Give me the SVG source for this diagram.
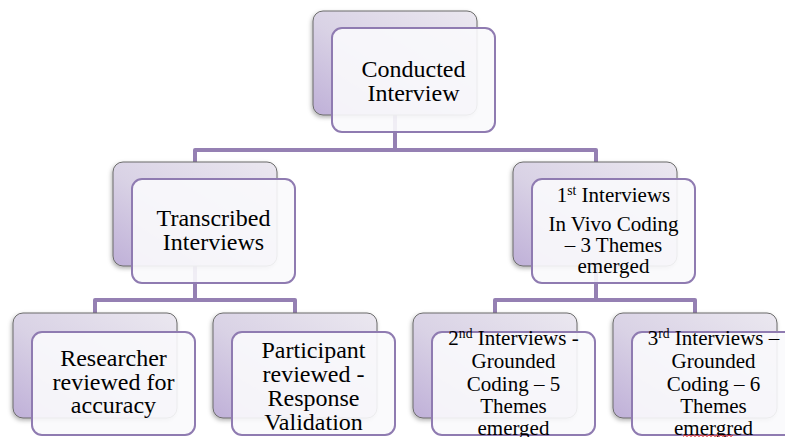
<svg xmlns="http://www.w3.org/2000/svg" width="785" height="437" viewBox="0 0 785 437">
  <defs>
    <linearGradient id="backFill" x1="1" y1="0" x2="0" y2="1">
      <stop offset="0" stop-color="#ebe8f0"/>
      <stop offset="0.55" stop-color="#d9d2e5"/>
      <stop offset="1" stop-color="#bfb0d8"/>
    </linearGradient>
    <filter id="shadow" x="-10%" y="-10%" width="125%" height="130%">
      <feDropShadow dx="-1" dy="2" stdDeviation="2" flood-color="#000" flood-opacity="0.3"/>
    </filter>
  </defs>
  <style>
    .back { fill: url(#backFill); stroke: #6b6b6b; stroke-width: 1; filter: url(#shadow); }
    .front { fill: #fafafc; fill-opacity: 0.9; stroke: #8f7bb1; stroke-width: 2; }
    .link { fill: none; stroke: #9580b3; stroke-width: 4; stroke-linejoin: round; }
    .lbl { font-family: "Liberation Serif", "Times New Roman", serif; fill: #000; text-anchor: middle; }
    .l1 { font-size: 24px; }
    .l2 { font-size: 21px; }
    .sup { font-size: 65%; }
  </style>
  <rect width="785" height="437" fill="#ffffff"/>

  <g id="connectors">
    <path class="link" d="M395 63 V150 M195 162 V150 H596 V162"/>
    <path class="link" d="M195 220 V300 M95 313 V300 H295 V313"/>
    <path class="link" d="M596 220 V300 M495 313 V300 H695 V313"/>
  </g>

  <g id="conducted">
    <rect class="back" x="313" y="11" width="164" height="104" rx="10"/>
    <rect class="front" x="332" y="28" width="163" height="104" rx="10"/>
    <text class="lbl l1" x="413.5" y="77">Conducted</text>
    <text class="lbl l1" x="413.5" y="101">Interview</text>
  </g>

  <g id="transcribed">
    <rect class="back" x="113" y="162" width="164" height="104" rx="10"/>
    <rect class="front" x="132" y="179" width="163" height="104" rx="10"/>
    <text class="lbl l1" x="213.5" y="226">Transcribed</text>
    <text class="lbl l1" x="213.5" y="250">Interviews</text>
  </g>

  <g id="first-interviews">
    <rect class="back" x="513" y="162" width="164" height="104" rx="10"/>
    <rect class="front" x="532" y="179" width="163" height="104" rx="10"/>
    <text class="lbl l2" x="613.5" y="202">1<tspan class="sup" baseline-shift="super">st</tspan> Interviews</text>
    <text class="lbl l2" x="613.5" y="231">In Vivo Coding</text>
    <text class="lbl l2" x="613.5" y="252">– 3 Themes</text>
    <text class="lbl l2" x="613.5" y="273">emerged</text>
  </g>

  <g id="researcher">
    <rect class="back" x="13" y="313" width="164" height="105" rx="10"/>
    <rect class="front" x="32" y="332" width="163" height="103" rx="10"/>
    <text class="lbl l1" x="113.5" y="366">Researcher</text>
    <text class="lbl l1" x="113.5" y="390">reviewed for</text>
    <text class="lbl l1" x="113.5" y="413">accuracy</text>
  </g>

  <g id="participant">
    <rect class="back" x="213" y="313" width="164" height="105" rx="10"/>
    <rect class="front" x="232" y="332" width="163" height="103" rx="10"/>
    <text class="lbl l1" x="313.5" y="358">Participant</text>
    <text class="lbl l1" x="313.5" y="382">reviewed -</text>
    <text class="lbl l1" x="313.5" y="406">Response</text>
    <text class="lbl l1" x="313.5" y="430">Validation</text>
  </g>

  <g id="second-interviews">
    <rect class="back" x="413" y="313" width="164" height="105" rx="10"/>
    <rect class="front" x="432" y="332" width="163" height="103" rx="10"/>
    <text class="lbl l2" x="513.5" y="345">2<tspan class="sup" baseline-shift="super">nd</tspan> Interviews -</text>
    <text class="lbl l2" x="513.5" y="368">Grounded</text>
    <text class="lbl l2" x="513.5" y="391">Coding – 5</text>
    <text class="lbl l2" x="513.5" y="413">Themes</text>
    <text class="lbl l2" x="513.5" y="435">emerged</text>
  </g>

  <g id="third-interviews">
    <rect class="back" x="613" y="313" width="164" height="105" rx="10"/>
    <rect class="front" x="632" y="332" width="163" height="103" rx="10"/>
    <text class="lbl l2" x="713.5" y="345">3<tspan class="sup" baseline-shift="super">rd</tspan> Interviews –</text>
    <text class="lbl l2" x="713.5" y="368">Grounded</text>
    <text class="lbl l2" x="713.5" y="391">Coding – 6</text>
    <text class="lbl l2" x="713.5" y="413">Themes</text>
    <text class="lbl l2" x="713.5" y="435">emergred</text>
    <!-- spell-check squiggle under the misspelled word -->
    <path d="M683 436.5 l2 -1.5 l2 1.5 l2 -1.5 l2 1.5 l2 -1.5 l2 1.5 l2 -1.5 l2 1.5 l2 -1.5 l2 1.5 l2 -1.5 l2 1.5 l2 -1.5 l2 1.5 l2 -1.5 l2 1.5 l2 -1.5 l2 1.5 l2 -1.5 l2 1.5 l2 -1.5 l2 1.5 l2 -1.5 l2 1.5 l2 -1.5" fill="none" stroke="#e0312f" stroke-width="1"/>
  </g>
</svg>
